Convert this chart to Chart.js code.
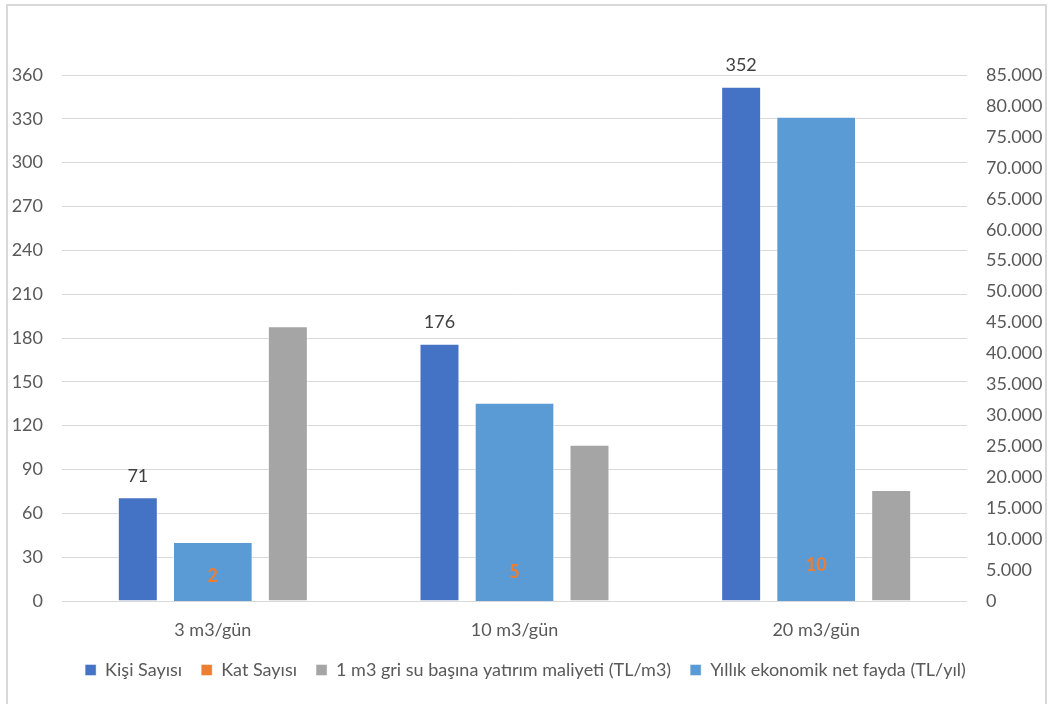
<!DOCTYPE html>
<html>
<head>
<meta charset="utf-8">
<style>
  html, body { margin: 0; padding: 0; background: #ffffff; }
  #chart { display: block; }
</style>
<script src="https://cdn.jsdelivr.net/npm/chart.js@4.4.0/dist/chart.umd.min.js"></script>
</head>
<body>
<canvas id="chart" width="1051" height="704"></canvas>
<script>
// Capacity groups
const categories = ['3 m3/gün', '10 m3/gün', '20 m3/gün'];

// Series on the left axis
const kisiSayisi = [71, 176, 352];
const katSayisi = [2, 5, 10];
const yatirimMaliyeti = [188, 107, 76];

// Series on the right axis
const netFayda = [9500, 32000, 78200];

// Axis ranges
const leftMax = 360, leftStep = 30;
const rightMax = 85000, rightStep = 5000;

const FONT = 'Lato, "Open Sans", sans-serif';
const TEXT = '#595959';

function thousands(v) {
  return String(v).replace(/\B(?=(\d{3})+(?!\d))/g, '.');
}

// Outer frame around the chart
const framePlugin = {
  id: 'frame',
  beforeDraw(chart) {
    const ctx = chart.ctx;
    ctx.save();
    ctx.fillStyle = '#ffffff';
    ctx.fillRect(0, 0, chart.width, chart.height);
    ctx.strokeStyle = '#d9d9d9';
    ctx.lineWidth = 2;
    ctx.strokeRect(7, 5, 1039, 720);
    ctx.restore();
  }
};

// Value labels above the bars of the first two series
const valueLabels = {
  id: 'valueLabels',
  afterDatasetsDraw(chart) {
    const ctx = chart.ctx;
    const styles = {
      0: { color: '#404040', weight: 'normal' },
      1: { color: '#ED7D31', weight: 'bold' }
    };
    ctx.save();
    ctx.textAlign = 'center';
    ctx.textBaseline = 'middle';
    Object.keys(styles).forEach(k => {
      const i = Number(k);
      const meta = chart.getDatasetMeta(i);
      const ds = chart.data.datasets[i];
      ctx.fillStyle = styles[i].color;
      ctx.font = styles[i].weight + ' 18px ' + FONT;
      meta.data.forEach((bar, j) => {
        ctx.fillText(String(ds.data[j]), bar.x, bar.y - 21.5);
      });
    });
    ctx.restore();
  }
};

new Chart(document.getElementById('chart'), {
  type: 'bar',
  data: {
    labels: categories,
    datasets: [
      {
        label: 'Kişi Sayısı',
        data: kisiSayisi,
        backgroundColor: '#4472C4',
        borderColor: 'rgba(255,255,255,0.45)',
        borderWidth: 1,
        yAxisID: 'y',
        order: 1
      },
      {
        label: 'Kat Sayısı',
        data: katSayisi,
        backgroundColor: '#ED7D31',
        borderColor: 'rgba(255,255,255,0.45)',
        borderWidth: 1,
        yAxisID: 'y',
        order: 1
      },
      {
        label: '1 m3 gri su başına yatırım maliyeti (TL/m3)',
        data: yatirimMaliyeti,
        backgroundColor: '#A5A5A5',
        borderColor: 'rgba(255,255,255,0.45)',
        borderWidth: 1,
        yAxisID: 'y',
        order: 1
      },
      {
        label: 'Yıllık ekonomik net fayda (TL/yıl)',
        data: netFayda,
        backgroundColor: '#5B9BD5',
        borderColor: 'rgba(255,255,255,0.45)',
        borderWidth: 1,
        yAxisID: 'y1',
        grouped: false,
        barThickness: 79,
        order: 0
      }
    ]
  },
  options: {
    responsive: false,
    animation: false,
    devicePixelRatio: 1,
    categoryPercentage: 0.746,
    barPercentage: 0.533,
    layout: { padding: { top: 75, left: 0, right: 0, bottom: 15 } },
    plugins: {
      tooltip: { enabled: false },
      legend: {
        position: 'bottom',
        labels: {
          boxWidth: 11,
          boxHeight: 11,
          padding: 19,
          color: TEXT,
          font: { family: FONT, size: 18 },
          sort: (a, b) => a.datasetIndex - b.datasetIndex
        }
      }
    },
    scales: {
      x: {
        grid: { display: false },
        border: { display: false },
        ticks: { color: TEXT, font: { family: FONT, size: 18 }, padding: 10 },
        afterFit(scale) { scale.height = 41; }
      },
      y: {
        position: 'left',
        min: 0,
        max: leftMax,
        grid: { color: '#d9d9d9', drawTicks: false },
        border: { display: false },
        ticks: {
          stepSize: leftStep,
          color: TEXT,
          padding: 19,
          font: { family: FONT, size: 18 }
        },
        afterFit(scale) { scale.width = 62; }
      },
      y1: {
        position: 'right',
        min: 0,
        max: rightMax,
        grid: { display: false, drawTicks: false },
        border: { display: false },
        ticks: {
          stepSize: rightStep,
          color: TEXT,
          padding: 19,
          font: { family: FONT, size: 18 },
          callback: v => thousands(v)
        },
        afterFit(scale) { scale.width = 84; }
      }
    }
  },
  plugins: [framePlugin, valueLabels]
});
</script>
</body>
</html>
